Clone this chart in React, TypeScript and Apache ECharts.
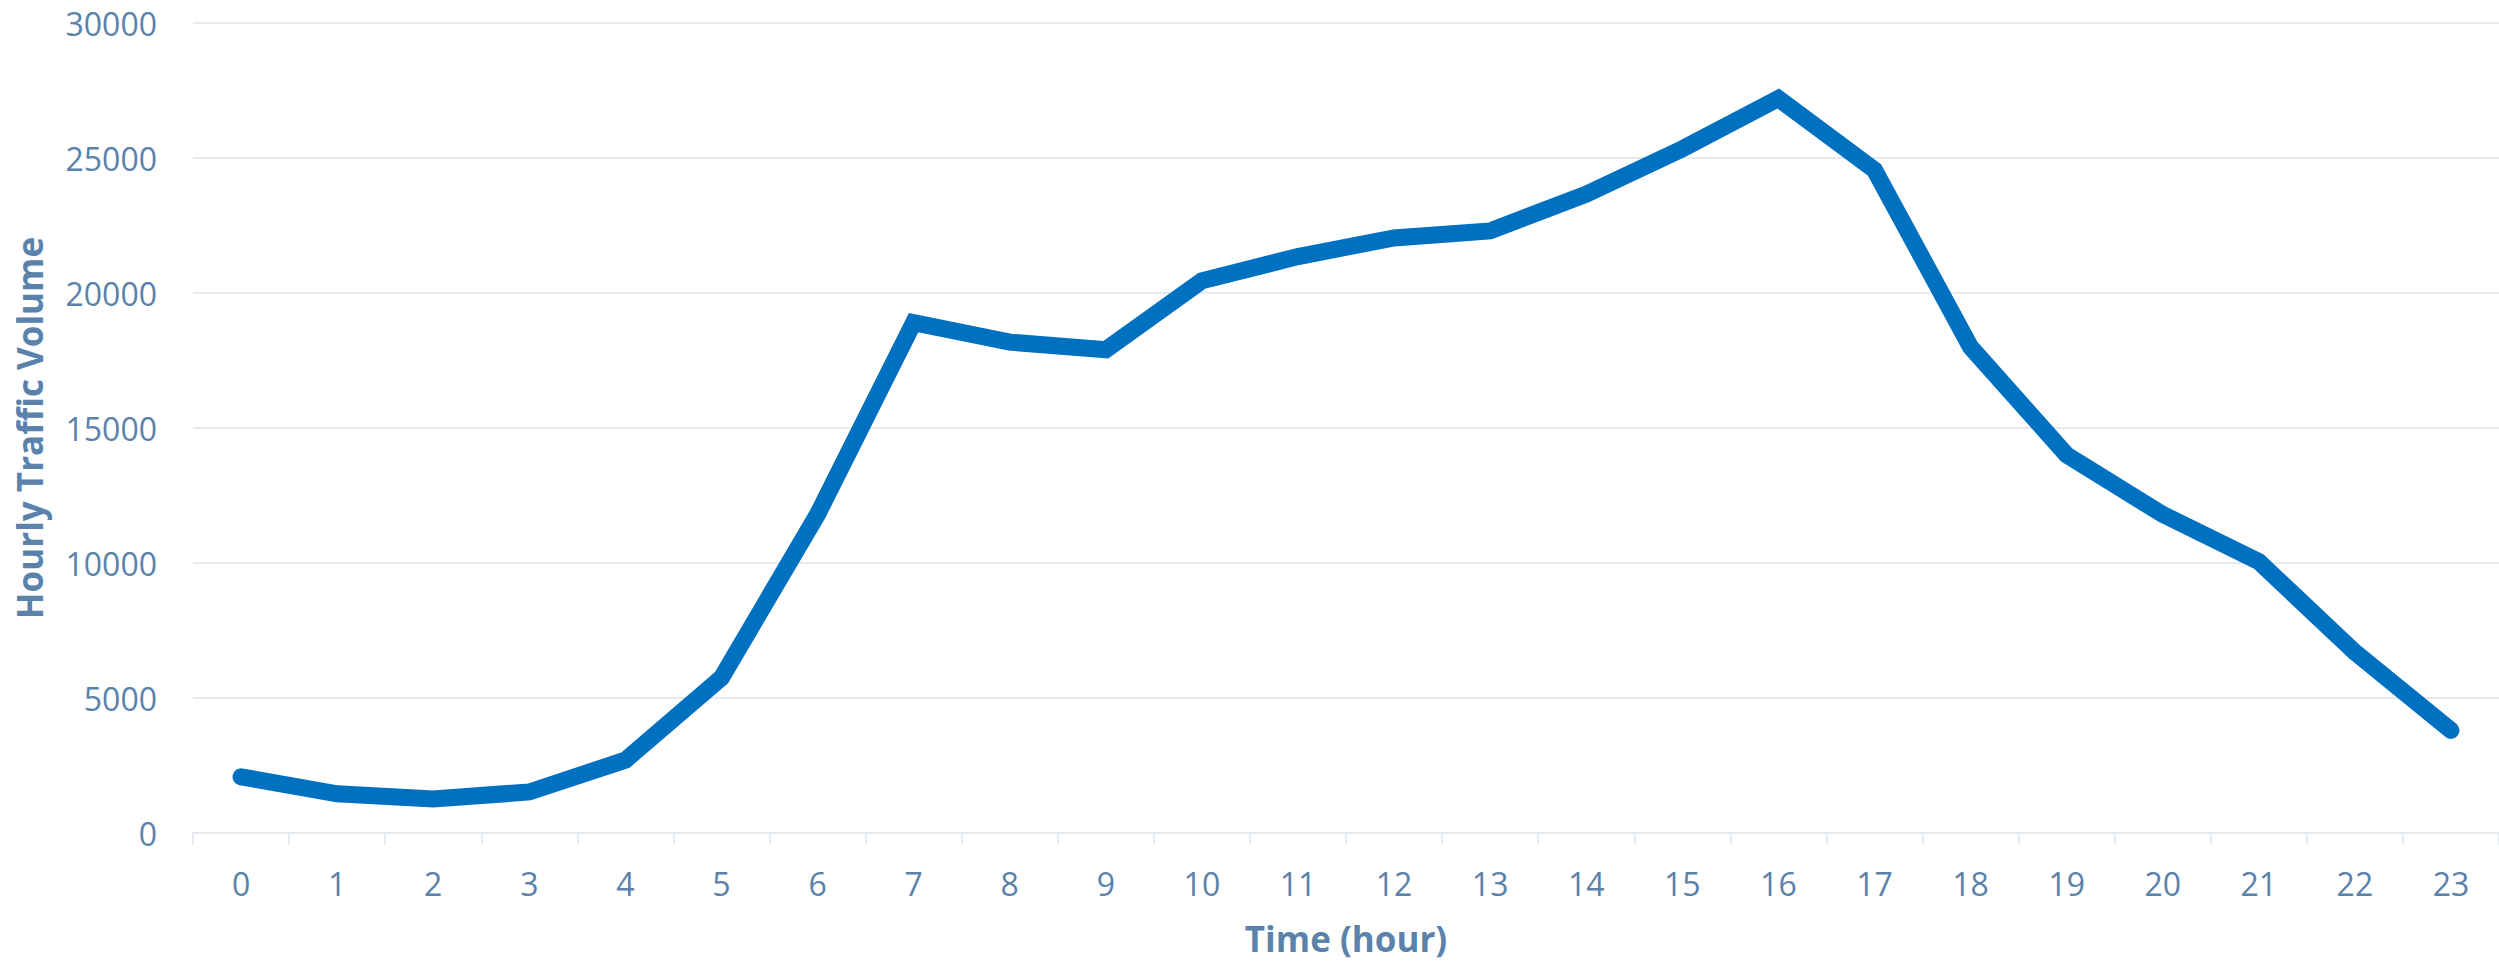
import React, { useEffect, useRef } from "react";
import * as echarts from "echarts";

// Hours of the day on the x axis
const hours: string[] = [
  "0", "1", "2", "3", "4", "5", "6", "7", "8", "9", "10", "11",
  "12", "13", "14", "15", "16", "17", "18", "19", "20", "21", "22", "23",
];

// Vehicles counted in each hour
const trafficVolume: number[] = [
  2080, 1450, 1260, 1520, 2700, 5750, 11800, 18900, 18180, 17900, 20450, 21350,
  22040, 22300, 23660, 25340, 27200, 24560, 18000, 14000, 11800, 10050, 6700, 3800,
];

const yMin = 0;
const yMax = 30000;
const yStep = 5000;

const TEXT_COLOR = "#5a82ab";
const GRID_COLOR = "#e6ebf1";
const LINE_COLOR = "#0070c0";
const FONT = "'Open Sans', 'Noto Sans', sans-serif";

export default function App() {
  const ref = useRef<HTMLDivElement>(null);

  useEffect(() => {
    document.body.style.margin = "0";
    if (!ref.current) return;
    const chart = echarts.init(ref.current, undefined, { renderer: "svg" });
    chart.setOption({
      animation: false,
      backgroundColor: "#ffffff",
      grid: { left: 193, right: 0, top: 23, bottom: 127, containLabel: false },
      xAxis: {
        type: "category",
        data: hours,
        boundaryGap: true,
        name: "Time (hour)",
        nameLocation: "middle",
        nameGap: 88,
        nameTextStyle: {
          color: TEXT_COLOR,
          fontFamily: FONT,
          fontSize: 35,
          fontWeight: "bold",
        },
        axisLine: { show: true, lineStyle: { color: GRID_COLOR, width: 2 } },
        axisTick: {
          show: true,
          length: 12,
          alignWithLabel: false,
          lineStyle: { color: GRID_COLOR, width: 2 },
        },
        axisLabel: {
          color: TEXT_COLOR,
          fontFamily: FONT,
          fontSize: 32,
          margin: 34,
          interval: 0,
        },
        splitLine: { show: false },
      },
      yAxis: {
        type: "value",
        min: yMin,
        max: yMax,
        interval: yStep,
        name: "Hourly Traffic Volume",
        nameLocation: "middle",
        nameGap: 146,
        nameTextStyle: {
          color: TEXT_COLOR,
          fontFamily: FONT,
          fontSize: 35,
          fontWeight: "bold",
        },
        axisLine: { show: false },
        axisTick: { show: false },
        axisLabel: {
          color: TEXT_COLOR,
          fontFamily: FONT,
          fontSize: 32,
          margin: 36,
          formatter: (v: number) => String(v),
        },
        splitLine: { show: true, lineStyle: { color: GRID_COLOR, width: 2 } },
      },
      series: [
        {
          type: "line",
          data: trafficVolume,
          showSymbol: false,
          symbol: "none",
          lineStyle: {
            color: LINE_COLOR,
            width: 17,
            cap: "round",
            join: "miter",
          },
          itemStyle: { color: LINE_COLOR },
        },
      ],
    });
    return () => chart.dispose();
  }, []);

  return <div ref={ref} style={{ width: 2499, height: 961 }} />;
}
